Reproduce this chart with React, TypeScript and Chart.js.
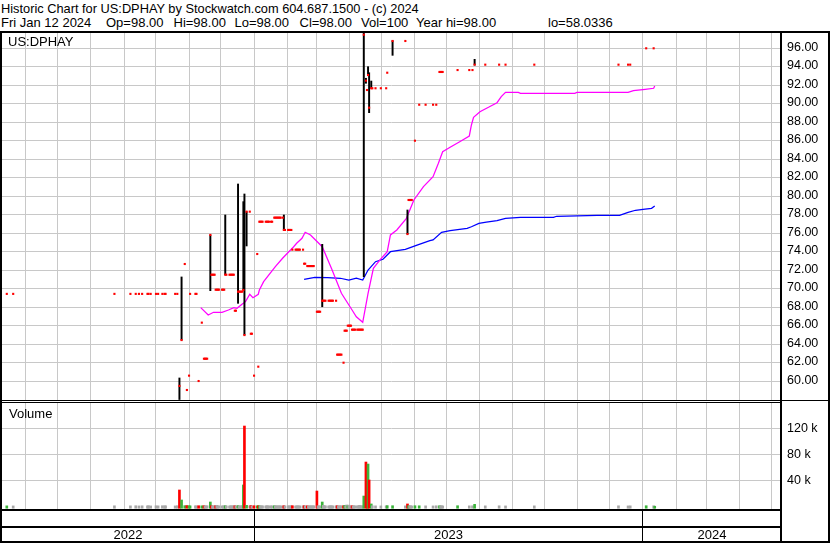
import React, { useEffect, useRef } from 'react';
import { Chart, registerables } from 'chart.js';

Chart.register(...registerables);

const FONT = "'Liberation Sans', Arial, Helvetica, sans-serif";

// x values are days counted from 2022-01-01
const X_MIN = 128.5;
const X_MAX = 859.5;
const YEARS = [2022, 2023, 2024];

const PRICE_MIN = 57.978;
const PRICE_MAX = 97.762;
const PRICE_TICKS = [60, 62, 64, 66, 68, 70, 72, 74, 76, 78, 80, 82, 84, 86, 88, 90, 92, 94, 96];
const VOL_MIN = -4154;
const VOL_MAX = 158923;
const VOL_FLOOR = -3000;
const VOL_TICKS = [40000, 80000, 120000];

// daily records: day, close, volume
const DAYS = [
  133, 139, 234, 249, 254, 257, 260, 265, 266, 268,
  273, 275, 279, 281, 282, 291, 293, 295, 297, 300,
  302, 304, 305, 310, 311, 313, 316, 318, 319, 320,
  321, 324, 325, 326, 327, 328, 329, 330, 331, 332,
  335, 336, 337, 338, 339, 342, 343, 344, 345, 346,
  347, 348, 350, 351, 352, 353, 354, 355, 356, 358,
  361, 362, 363, 365, 368, 369, 370, 371, 372, 373,
  376, 377, 378, 379, 381, 382, 384, 385, 386, 387,
  388, 389, 390, 392, 393, 394, 397, 398, 399, 400,
  401, 404, 405, 406, 407, 408, 411, 412, 413, 415,
  416, 417, 418, 419, 420, 421, 424, 425, 426, 427,
  429, 430, 431, 432, 435, 436, 437, 438, 439, 442,
  443, 444, 445, 446, 447, 449, 450, 451, 452, 453,
  454, 455, 456, 457, 458, 459, 460, 462, 463, 464,
  465, 466, 467, 468, 470, 471, 472, 473, 475, 476,
  479, 484, 489, 490, 495, 507, 509, 510, 511, 512,
  513, 516, 520, 526, 533, 536, 539, 540, 541, 542,
  556, 567, 570, 572, 582, 595, 601, 628, 707, 716,
  718, 733, 740, 741,
];

const CLOSE = [
  69.45, 69.45, 69.45, 69.45, 69.45, 69.45, 69.45, 69.45, 69.45, 69.45,
  69.45, 69.45, 69.45, 69.45, 69.45, 69.45, 69.45, 59.5, 64.46, 72.68,
  59.06, 60.61, 69.45, 69.45, 69.45, 60.03, 66.34, 62.44, 62.44, 62.44,
  62.44, 75.82, 71.52, 71.52, 71.52, 71.52, 69.9, 69.9, 69.9, 69.9,
  69.9, 69.9, 69.9, 71.52, 71.52, 71.52, 71.52, 71.52, 71.52, 71.52,
  67.63, 67.63, 69.69, 69.69, 69.69, 69.69, 69.69, 69.87, 65.0, 78.34,
  78.34, 65.14, 65.14, 60.61, 73.76, 61.58, 77.25, 77.25, 77.25, 77.25,
  77.25, 77.25, 77.25, 77.25, 77.25, 77.25, 77.69, 77.69, 77.69, 77.69,
  77.69, 77.69, 77.69, 77.69, 76.36, 76.36, 76.36, 76.36, 76.36, 76.36,
  74.23, 74.23, 74.23, 74.23, 74.23, 74.23, 74.23, 72.71, 72.71, 72.46,
  72.46, 72.46, 72.46, 72.46, 72.46, 72.46, 67.52, 67.52, 67.52, 67.52,
  68.71, 68.71, 68.71, 68.71, 68.71, 68.71, 68.71, 68.71, 68.71, 68.71,
  62.88, 62.88, 62.88, 62.88, 62.88, 62.01, 65.47, 65.47, 65.47, 66.01,
  66.01, 66.01, 66.01, 65.58, 65.58, 65.58, 65.58, 65.58, 65.58, 65.58,
  65.58, 65.58, 65.58, 97.47, 92.5, 91.49, 93.11, 89.58, 91.68, 91.68,
  91.68, 91.68, 91.68, 93.36, 96.79, 96.79, 75.92, 79.6, 79.6, 79.6,
  79.6, 86.01, 89.9, 89.9, 89.9, 89.9, 93.44, 93.44, 93.44, 93.44,
  93.65, 93.65, 93.65, 94.23, 94.23, 94.23, 94.23, 94.23, 94.23, 94.23,
  94.23, 96.0, 96.0, 98.0,
];

const VOLUME = [
  700, 600, 800, 700, 900, 600, 800, 700, 900, 600,
  800, 700, 900, 700, 800, 600, 900, 25100, 9700, 1000,
  1200, 900, 700, 800, 600, 900, 800, 1000, 700, 600,
  800, 6600, 900, 700, 600, 800, 1000, 1500, 600, 800,
  700, 600, 700, 900, 700, 600, 800, 700, 600, 900,
  800, 700, 1200, 800, 600, 700, 900, 32800, 123500, 1500,
  800, 1200, 700, 900, 800, 900, 800, 700, 600, 800,
  700, 900, 600, 700, 800, 600, 900, 700, 800, 600,
  700, 800, 600, 700, 900, 700, 800, 600, 700, 800,
  900, 600, 700, 800, 600, 700, 800, 900, 700, 800,
  600, 700, 800, 600, 700, 900, 23500, 700, 800, 600,
  6600, 1500, 700, 800, 600, 700, 900, 600, 700, 800,
  900, 700, 600, 800, 700, 900, 1500, 700, 2000, 800,
  1800, 700, 600, 900, 700, 800, 600, 700, 800, 1500,
  700, 600, 800, 15800, 68100, 900, 65000, 40500, 3600, 800,
  700, 600, 800, 1000, 900, 700, 3600, 900, 700, 800,
  600, 900, 800, 700, 600, 800, 900, 700, 800, 600,
  900, 700, 800, 3000, 700, 800, 600, 700, 800, 600,
  700, 900, 800, 100,
];

// days with a high-low range
const RANGE_DAY = [295, 297, 324, 338, 350, 355, 356, 358, 393, 429, 468, 470, 472, 473, 475, 495, 509, 572];
const RANGE_LOW = [58.03, 64.46, 69.8, 71.52, 68.43, 69.87, 65.0, 74.63, 76.36, 68.06, 71.31, 92.22, 93.11, 89.04, 91.68, 95.24, 75.92, 94.19];
const RANGE_HIGH = [60.36, 71.28, 75.82, 77.98, 81.33, 79.42, 80.25, 78.34, 77.98, 74.81, 97.79, 92.76, 94.01, 93.36, 92.46, 96.82, 78.52, 94.81];

// moving averages
const MA_FAST_DAY = [315, 322, 327, 335, 341, 346, 349, 354, 357, 361, 364, 369, 370, 374, 385, 392, 402, 405, 410, 413, 418, 429, 438, 447, 457, 461, 467, 472, 477, 483, 490, 493, 499, 508, 515, 524, 533, 538, 542, 549, 558, 567, 569, 571, 577, 585, 593, 597, 601, 613, 615, 666, 668, 716, 721, 732, 740, 741];
const MA_FAST = [67.96, 67.17, 67.46, 67.46, 67.71, 67.96, 67.89, 68.36, 68.61, 69.41, 69.04, 69.41, 69.87, 70.77, 72.39, 73.33, 74.52, 74.92, 75.46, 76.11, 75.82, 74.55, 72.11, 69.51, 67.71, 66.98, 66.38, 69.51, 72.22, 73.11, 74.01, 75.82, 76.36, 77.62, 79.6, 81.04, 82.12, 83.57, 84.82, 85.3, 85.9, 86.52, 87.71, 88.54, 89.15, 89.62, 90.12, 90.77, 91.24, 91.24, 91.14, 91.14, 91.24, 91.24, 91.42, 91.57, 91.68, 91.92];
const MA_SLOW_DAY = [412, 422, 434, 446, 454, 461, 467, 472, 479, 486, 493, 507, 518, 530, 533, 541, 549, 565, 569, 576, 583, 593, 601, 615, 646, 649, 687, 708, 716, 723, 730, 738, 741];
const MA_SLOW = [71.03, 71.24, 71.2, 71.14, 70.95, 71.14, 70.95, 72.03, 72.93, 73.19, 74.01, 74.27, 74.73, 75.2, 75.28, 76.11, 76.28, 76.54, 76.71, 77.08, 77.22, 77.36, 77.62, 77.73, 77.73, 77.84, 77.95, 77.95, 78.27, 78.49, 78.59, 78.7, 78.95];

const TITLE_1 = 'Historic Chart for US:DPHAY by Stockwatch.com 604.687.1500 - (c) 2024';
const TITLE_2_FIELDS = ['Fri Jan 12 2024', 'Op=98.00', 'Hi=98.00', 'Lo=98.00', 'Cl=98.00', 'Vol=100', 'Year hi=98.00', 'lo=58.0336'];
const TITLE_2_LEFT = [1, 106, 173.5, 234.5, 299.5, 361, 416, 548];
const SYMBOL = 'US:DPHAY';
const VOL_LABEL = 'Volume';

const GRID = '#c8c8c8';
const RED = '#ff0000';
const GREEN = '#3cb43c';
const GRAY = '#a8a8a8';
const MAGENTA = '#ff00ff';
const BLUE = '#0000ff';

const dayOf = (y: number, m: number) => (Date.UTC(y, m, 1) - Date.UTC(2022, 0, 1)) / 86400000;

const monthTicks = () => {
  const t: { value: number }[] = [];
  for (const y of YEARS) {
    for (let m = 0; m < 12; m++) {
      const v = dayOf(y, m);
      if (v > X_MIN && v < X_MAX) t.push({ value: v });
    }
  }
  return t;
};

const xScale = () => ({
  type: 'linear',
  min: X_MIN,
  max: X_MAX,
  offset: false,
  afterBuildTicks: (s: any) => { s.ticks = monthTicks(); },
  afterFit: (s: any) => { s.height = 0; s.paddingLeft = 0; s.paddingRight = 0; },
  ticks: { display: false },
  grid: { color: GRID, lineWidth: 1, drawTicks: false, offset: false },
  border: { display: false },
});

const yScale = (min: number, max: number, ticks: number[], fmt: (v: number) => string, labelOffset: number) => ({
  type: 'linear',
  position: 'right',
  min,
  max,
  afterBuildTicks: (s: any) => { s.ticks = ticks.map((v) => ({ value: v })); },
  afterFit: (s: any) => { s.width = 49; s.paddingTop = 0; s.paddingBottom = 0; },
  ticks: {
    callback: (v: any) => fmt(Number(v)),
    color: '#000',
    font: { family: FONT, size: 12.5 },
    padding: 6,
    labelOffset,
    autoSkip: false,
  },
  grid: { color: GRID, lineWidth: 1, drawTicks: false },
  border: { display: false },
});

const baseOptions = {
  responsive: false,
  animation: false,
  devicePixelRatio: 1,
  events: [],
  layout: { padding: { left: 2, right: 0, top: 0, bottom: 0 }, autoPadding: false },
  plugins: { legend: { display: false }, tooltip: { enabled: false }, title: { display: false } },
};

const yearLabelPlugin = {
  id: 'yearLabels',
  afterDraw(chart: any) {
    const { ctx, scales } = chart;
    const x = scales.x;
    ctx.save();
    ctx.font = `13px ${FONT}`;
    ctx.fillStyle = '#000';
    ctx.textAlign = 'center';
    ctx.textBaseline = 'alphabetic';
    YEARS.forEach((yr) => {
      const a = Math.max(dayOf(yr, 0), X_MIN);
      const b = Math.min(dayOf(yr + 1, 0), X_MAX);
      ctx.fillText(String(yr), x.getPixelForValue((a + b) / 2), 28);
    });
    ctx.restore();
  },
};

const line = (left: number, top: number, width: number, height: number) => (
  <div style={{ position: 'absolute', left, top, width, height, background: '#000' }} />
);

export default function App() {
  const priceRef = useRef<HTMLCanvasElement>(null);
  const volRef = useRef<HTMLCanvasElement>(null);
  const yearRef = useRef<HTMLCanvasElement>(null);

  useEffect(() => {
    const charts: Chart[] = [];
    const volColors = CLOSE.map((c, i) =>
      i === 0 || c > CLOSE[i - 1] ? GREEN : c < CLOSE[i - 1] ? RED : GRAY
    );

    charts.push(
      new Chart(priceRef.current as HTMLCanvasElement, {
        type: 'bar',
        data: {
          datasets: [
            {
              type: 'line',
              data: DAYS.map((d, i) => ({ x: d, y: CLOSE[i] })),
              showLine: false,
              pointStyle: 'rect',
              pointRadius: 1.5,
              pointBackgroundColor: RED,
              pointBorderWidth: 0,
              borderWidth: 0,
              order: 0,
            },
            {
              type: 'bar',
              data: RANGE_DAY.map((d, i) => ({ x: d, y: [RANGE_LOW[i], RANGE_HIGH[i]] })),
              backgroundColor: '#000',
              barThickness: 1.3,
              grouped: false,
              order: 1,
            },
            {
              type: 'line',
              data: MA_FAST_DAY.map((d, i) => ({ x: d, y: MA_FAST[i] })),
              borderColor: MAGENTA,
              borderWidth: 1.25,
              pointRadius: 0,
              tension: 0,
              order: 2,
            },
            {
              type: 'line',
              data: MA_SLOW_DAY.map((d, i) => ({ x: d, y: MA_SLOW[i] })),
              borderColor: BLUE,
              borderWidth: 1.25,
              pointRadius: 0,
              tension: 0,
              order: 3,
            },
          ] as any,
        },
        options: {
          ...baseOptions,
          scales: {
            x: xScale(),
            y: yScale(PRICE_MIN, PRICE_MAX, PRICE_TICKS, (v) => v.toFixed(2), -1),
          },
        } as any,
      })
    );

    charts.push(
      new Chart(volRef.current as HTMLCanvasElement, {
        type: 'bar',
        data: {
          datasets: [
            {
              data: DAYS.map((d, i) => ({ x: d, y: [VOL_FLOOR, VOLUME[i]] })),
              backgroundColor: volColors,
              barThickness: 2,
              grouped: false,
            },
          ] as any,
        },
        options: {
          ...baseOptions,
          scales: {
            x: xScale(),
            y: yScale(VOL_MIN, VOL_MAX, VOL_TICKS, (v) => `${v / 1000} k`, 0),
          },
        } as any,
      })
    );

    charts.push(
      new Chart(yearRef.current as HTMLCanvasElement, {
        type: 'line',
        data: { datasets: [] },
        options: {
          ...baseOptions,
          layout: { padding: { left: 2, right: 49, top: 0, bottom: 0 }, autoPadding: false },
          scales: {
            x: {
              type: 'linear',
              min: X_MIN,
              max: X_MAX,
              afterBuildTicks: (s: any) => { s.ticks = YEARS.slice(1).map((y) => ({ value: dayOf(y, 0) })); },
              afterFit: (s: any) => { s.height = 0; },
              ticks: { display: false },
              grid: { color: '#000', lineWidth: 1, drawTicks: false },
              border: { display: false },
            },
            y: { display: false },
          },
        } as any,
        plugins: [yearLabelPlugin],
      })
    );

    return () => charts.forEach((c) => c.destroy());
  }, []);

  const text = (content: string, left: number, top: number, size = 13) => (
    <div
      key={`${content}-${left}-${top}`}
      style={{
        position: 'absolute',
        left,
        top,
        fontFamily: FONT,
        fontSize: size,
        lineHeight: '14px',
        color: '#000',
        whiteSpace: 'pre',
      }}
    >
      {content}
    </div>
  );

  return (
    <div style={{ position: 'absolute', left: 0, top: 0, width: 830, height: 543, background: '#fff', overflow: 'hidden' }}>
      {text(TITLE_1, 1, 2, 12.8)}
      {TITLE_2_FIELDS.map((f, i) => text(f, TITLE_2_LEFT[i], 16.3))}
      <canvas ref={priceRef} width={830} height={368} style={{ position: 'absolute', left: 0, top: 32, display: 'block' }} />
      <canvas ref={volRef} width={830} height={106} style={{ position: 'absolute', left: 0, top: 403, display: 'block' }} />
      <canvas ref={yearRef} width={830} height={30} style={{ position: 'absolute', left: 0, top: 511, display: 'block' }} />
      {text(SYMBOL, 8, 34.5)}
      {text(VOL_LABEL, 9, 406.8)}
      {line(0, 31, 830, 2)}
      {line(0, 400, 830, 1)}
      {line(0, 402, 782, 1)}
      {line(0, 509, 782, 2)}
      {line(0, 526, 782, 2)}
      {line(0, 541, 830, 2)}
      {line(0, 31, 2, 512)}
      {line(780, 31, 2, 512)}
      {line(828, 31, 2, 512)}
    </div>
  );
}
